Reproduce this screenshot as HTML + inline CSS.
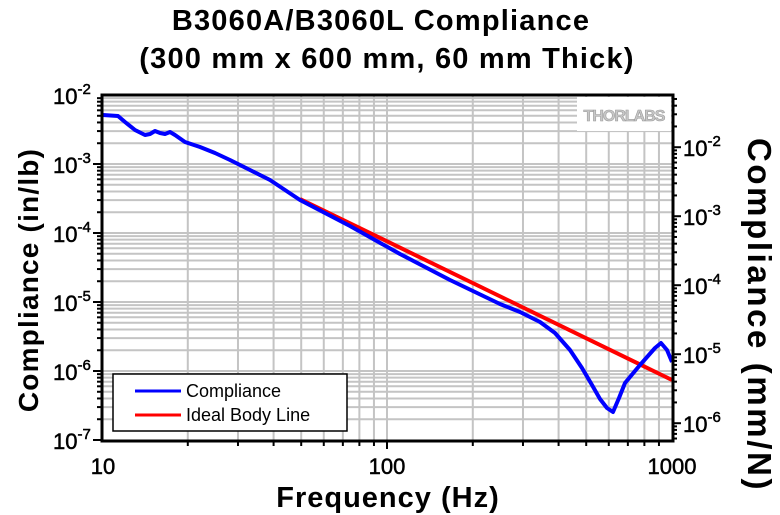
<!DOCTYPE html>
<html><head><meta charset="utf-8"><style>
html,body{margin:0;padding:0;background:#fff;}
svg{display:block;font-family:"Liberation Sans",Arial,sans-serif;}
</style></head><body>
<svg id="s" width="780" height="515" viewBox="0 0 780 515" xmlns="http://www.w3.org/2000/svg">
<g font-weight="bold" text-anchor="middle" fill="#000">
<text x="381" y="30" font-size="29" letter-spacing="1.2">B3060A/B3060L Compliance</text>
<text x="387" y="68" font-size="29" letter-spacing="1.2">(300 mm x 600 mm, 60 mm Thick)</text>
<text x="388" y="507" font-size="29" letter-spacing="1">Frequency (Hz)</text>
<text transform="translate(38,280) rotate(-90)" font-size="28" letter-spacing="1.2">Compliance (in/lb)</text>
<text transform="translate(748,315) rotate(90)" font-size="33" letter-spacing="2.6">Compliance (mm/N)</text>
</g>
<g id="grid" stroke="#c4c4c4" stroke-width="2"></g>
<rect x="577" y="97" width="94" height="34" fill="#fff"/>
<text x="624" y="121" font-size="16" font-weight="bold" fill="#c8c8c8" stroke="#9a9a9a" stroke-width="0.6" text-anchor="middle" letter-spacing="-1">THORLABS</text>
<g id="ticks" stroke="#000" stroke-width="2"></g>
<polyline fill="none" stroke="#ff0000" stroke-width="4" points="300,199 672,380"/>
<polyline fill="none" stroke="#0000ff" stroke-width="4" stroke-linejoin="round" points="103,115 118,116 125,122 135,130 145,135 150,134 155,131 160,133 165,134 170,132 175,135 185,142 200,147 215,153 230,160 250,170 270,180 285,190 300,200 350,226 400,254 450,280 500,304 520,312 540,322 555,333 570,350 582,368 592,385 600,399 607,408 613,412 619,398 625,383 640,365 655,348 661,343 667,350 672,362"/>
<rect x="102" y="95" width="571" height="346" fill="none" stroke="#000" stroke-width="3"/>
<rect x="113" y="374" width="234" height="57" fill="#fff" stroke="#000" stroke-width="1.5"/>
<line x1="135" y1="391" x2="181" y2="391" stroke="#0000ff" stroke-width="3"/>
<line x1="135" y1="415" x2="181" y2="415" stroke="#ff0000" stroke-width="3"/>
<g font-size="18" fill="#000">
<text x="186" y="397">Compliance</text>
<text x="186" y="421">Ideal Body Line</text>
</g>
<g id="labels" font-size="22" fill="#000" stroke="#000" stroke-width="0.5"></g>
</svg>
<script>
var NS="http://www.w3.org/2000/svg";
function el(p,t,a){var e=document.createElementNS(NS,t);for(var k in a)e.setAttribute(k,a[k]);document.getElementById(p).appendChild(e);return e;}
var L=102,R=672,T=95,B=440;
function X(f){return L+(Math.log10(f)-1)*(R-L)/2;}
function Y(v){return T+(-2-Math.log10(v))*(B-T)/5;}
for(var d=1;d<=100;d*=10)for(var m=1;m<=9;m++){var f=d*10*m;if(f<=10||f>=1000)continue;var x=X(f);el("grid","line",{x1:x,y1:T,x2:x,y2:B});el("ticks","line",{x1:x,y1:B,x2:x,y2:B+(m==1?9:6)});}
for(var e=-7;e<-2;e++)for(var m=1;m<=9;m++){var v=m*Math.pow(10,e);var y=Y(v);if(m>1||e>-7){if(y>T&&y<B)el("grid","line",{x1:L,y1:y,x2:R,y2:y});}el("ticks","line",{x1:L-(m==1?9:5),y1:y,x2:L,y2:y});}
var k=25.4/4.448;
for(var e=-7;e<=-1;e++)for(var m=1;m<=9;m++){var v=m*Math.pow(10,e)/k;var y=Y(v);if(y<T-1||y>B+1)continue;el("ticks","line",{x1:R,y1:y,x2:R+(m==1?9:5),y2:y});}
function pw(p,x,y,base,ex,anchor){var t=el("labels","text",{x:x,y:y,"text-anchor":anchor||"start"});t.textContent=base;if(ex){var s=document.createElementNS(NS,"tspan");s.setAttribute("dy","-10");s.setAttribute("font-size","15");s.textContent=ex;t.appendChild(s);}}
for(var e=-7;e<=-2;e++){pw("labels",53,Y(Math.pow(10,e))+9,"10",String(e));}
for(var e=-6;e<=-2;e++){pw("labels",683,Y(Math.pow(10,e)/k)+9,"10",String(e));}
pw("labels",103,474,"10",null,"middle");pw("labels",387,474,"100",null,"middle");pw("labels",672,474,"1000",null,"middle");
</script>
</body></html>
